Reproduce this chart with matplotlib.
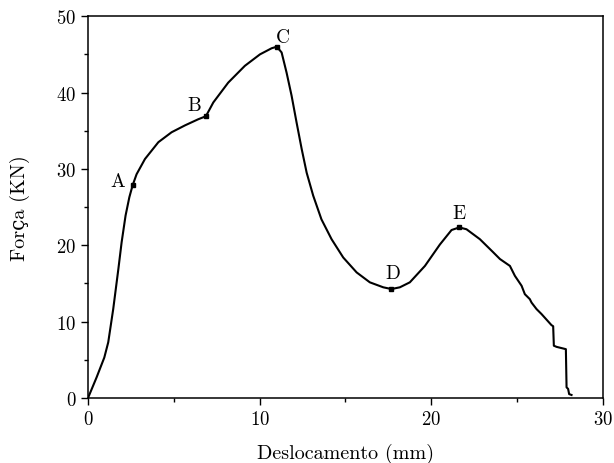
import matplotlib
matplotlib.use("Agg")
import matplotlib.pyplot as plt
from matplotlib.ticker import MultipleLocator

plt.rcParams['font.family'] = ['cmr10', 'DejaVu Serif']
plt.rcParams['mathtext.fontset'] = 'cm'
plt.rcParams['axes.formatter.use_mathtext'] = True

# Force-displacement curve
desloc = [0.0, 0.5, 0.95, 1.18, 1.47, 1.77, 1.96, 2.19, 2.41, 2.6, 2.83,
          3.32, 4.1, 4.87, 5.65, 6.42, 6.87, 7.3, 8.17, 9.14, 10.02, 10.7,
          11.0, 11.28, 11.57, 11.86, 12.15, 12.45, 12.74, 13.12, 13.6, 14.19,
          14.87, 15.65, 16.42, 17.2, 17.68, 18.17, 18.75, 19.63, 20.5, 21.18,
          21.63, 22.05, 22.83, 23.6, 24.0, 24.58, 24.87, 25.26, 25.45, 25.74,
          25.84, 26.13, 26.42, 26.7, 27.0, 27.1, 27.14, 27.3, 27.84, 27.88,
          27.97, 28.03, 28.17]
forca = [0.0, 2.7, 5.3, 7.3, 11.65, 16.9, 20.4, 23.9, 26.3, 27.85, 29.3,
         31.3, 33.5, 34.8, 35.7, 36.5, 36.9, 38.7, 41.3, 43.5, 45.0, 45.8,
         46.0, 45.25, 42.6, 39.6, 36.1, 32.6, 29.5, 26.5, 23.4, 20.8,
         18.4, 16.45, 15.15, 14.5, 14.27, 14.5, 15.15, 17.3, 20.1, 22.0,
         22.34, 22.1, 20.8, 19.1, 18.2, 17.3, 16.0, 14.7, 13.6, 12.95,
         12.5, 11.65, 11.0, 10.3, 9.55, 9.4, 6.85, 6.7, 6.4, 1.4,
         1.2, 0.52, 0.4]

# Labelled points
rotulos = ['A', 'B', 'C', 'D', 'E']
pontos_x = [2.6, 6.87, 11.0, 17.68, 21.63]
pontos_y = [27.85, 36.9, 46.0, 14.27, 22.34]

fig = plt.figure(figsize=(6.14, 4.64), dpi=100)
ax = fig.add_axes([0.1433, 0.140, 0.8387, 0.823])

ax.plot(desloc, forca, color='black', lw=1.5, solid_joinstyle='round')
ax.plot(pontos_x, pontos_y, 's', color='black', markersize=3.5)

offsets = {'A': (-0.85, 0.6), 'B': (-0.7, 1.45), 'C': (0.35, 1.3),
           'D': (0.1, 2.1), 'E': (0.0, 1.9)}
for r, px, py in zip(rotulos, pontos_x, pontos_y):
    dx, dy = offsets[r]
    ax.text(px + dx, py + dy, r, fontsize=14, ha='center', va='center')

ax.set_xlim(0, 30)
ax.set_ylim(0, 50)
ax.xaxis.set_major_locator(MultipleLocator(10))
ax.xaxis.set_minor_locator(MultipleLocator(5))
ax.yaxis.set_major_locator(MultipleLocator(10))
ax.yaxis.set_minor_locator(MultipleLocator(5))
ax.tick_params(which='major', direction='out', length=5, width=1, labelsize=13.5)
ax.tick_params(which='minor', direction='out', length=3, width=1)
for s in ax.spines.values():
    s.set_linewidth(1.1)

ax.set_xlabel('Deslocamento (mm)', fontsize=14.5, labelpad=10.5)
ax.set_ylabel('Força (KN)', fontsize=14.5, labelpad=19)

fig.savefig('out.png', dpi=100)
